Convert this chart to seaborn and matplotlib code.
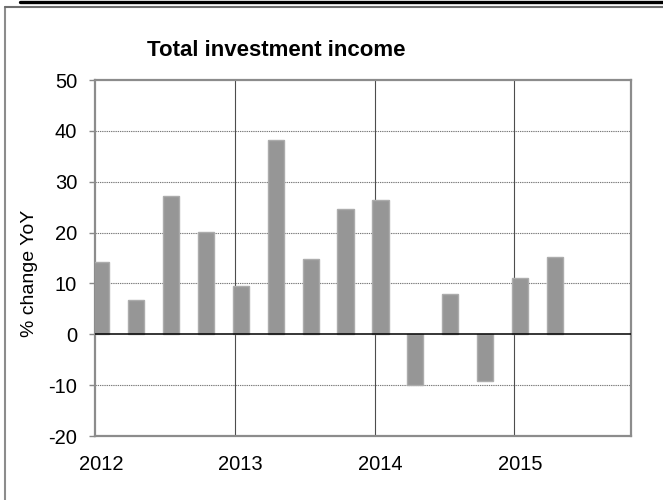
import matplotlib
matplotlib.use("Agg")
import matplotlib.pyplot as plt
from matplotlib.lines import Line2D
import numpy as np
import pandas as pd
import seaborn as sns

# Quarterly year-on-year change in total investment income
years = [2012, 2012, 2012, 2012, 2013, 2013, 2013, 2013,
         2014, 2014, 2014, 2014, 2015, 2015]
months = [1, 4, 7, 10, 1, 4, 7, 10, 1, 4, 7, 10, 1, 4]
pct_change = [14.2, 6.8, 27.2, 20.1, 9.5, 38.3, 14.9, 24.6,
              26.5, -10.0, 7.9, -9.2, 11.0, 15.2]
year_labels = ["2012", "2013", "2014", "2015"]

# place each quarter in the middle of its first month on a fractional-year axis
pos = [y + (m - 1) / 12 + 0.5 / 12 for y, m in zip(years, months)]
df = pd.DataFrame({"date": pos, "pct": pct_change})

sns.set_style("white")
plt.rcParams["font.family"] = ["Liberation Sans", "DejaVu Sans"]
plt.rcParams["axes.unicode_minus"] = False
plt.rcParams["text.color"] = "black"
plt.rcParams["xtick.color"] = "black"
plt.rcParams["ytick.color"] = "black"

fig = plt.figure(figsize=(6.63, 5.0), dpi=100)
ax = fig.add_axes([95 / 663, 64 / 500, 536 / 663, 356 / 500])

sns.barplot(data=df, x="date", y="pct", native_scale=True, width=0.46,
            color="#969696", saturation=1, edgecolor="#acacac", linewidth=1,
            ax=ax, zorder=3)

ax.set_xlim(2012, 2015 + 10 / 12)
ax.set_ylim(-20, 50)
ax.set_yticks(np.arange(-20, 51, 10))
ax.tick_params(axis="y", length=4.3, width=1, color="#888888", pad=8.5,
               labelsize=14.5, labelcolor="black", direction="out", left=True)

# year labels sit under the first quarter, gridlines on year boundaries
ax.set_xticks([int(l) + 0.5 / 12 for l in year_labels])
ax.set_xticklabels(year_labels)
ax.set_xticks([int(l) for l in year_labels], minor=True)
ax.tick_params(axis="x", which="both", length=0, pad=13.5, labelsize=14.5,
               labelcolor="black")

ax.grid(False)
for yv in np.arange(-10, 50, 10):
    if yv != 0:
        ax.axhline(yv, color="#7a7a7a", lw=0.8, ls=(0, (1.2, 0.8)), zorder=1)
for xv in ax.get_xticks(minor=True)[1:]:
    ax.axvline(xv, color="#4d4d4d", lw=0.8, zorder=1)
ax.axhline(0, color="black", lw=1.1, zorder=4)

for s in ax.spines.values():
    s.set_visible(True)
    s.set_color("#8c8c8c")
    s.set_linewidth(1.6)

ax.set_xlabel("")
ax.set_ylabel("")
fig.text(30 / 663, 1 - 273 / 500, "% change YoY", rotation=90,
         ha="center", va="center", fontsize=14, color="black")
fig.text(276 / 663, 1 - 56 / 500, "Total investment income",
         ha="center", va="baseline", fontsize=16, fontweight="bold",
         color="black")

# surrounding frame and the rule above it
fig.add_artist(Line2D([5 / 663, 5 / 663], [0, 1 - 7 / 500],
                      color="#8c8c8c", lw=1.5, transform=fig.transFigure))
fig.add_artist(Line2D([5 / 663, 1], [1 - 7 / 500, 1 - 7 / 500],
                      color="#6e6e6e", lw=1.5, transform=fig.transFigure))
fig.add_artist(Line2D([20 / 663, 1], [1 - 1.5 / 500, 1 - 1.5 / 500],
                      color="black", lw=2.4, transform=fig.transFigure))

fig.savefig("out.png", dpi=100)
